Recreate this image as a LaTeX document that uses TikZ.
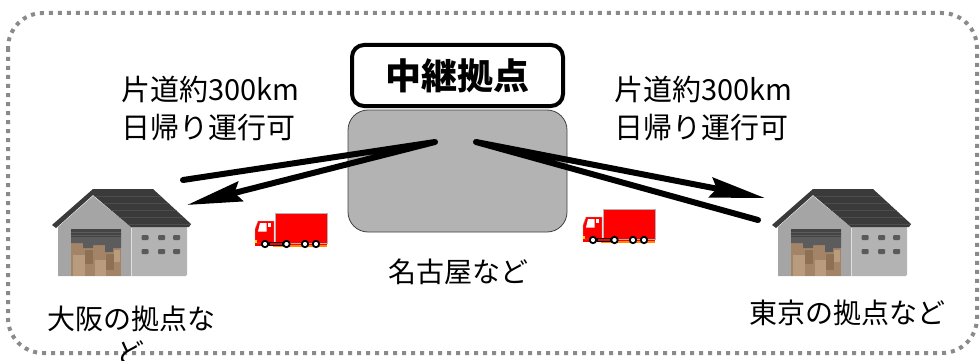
\documentclass[tikz,border=0pt]{standalone}
\usepackage{fontspec}
\newfontfamily\jp{Noto Sans CJK JP}
\usetikzlibrary{arrows.meta}

\definecolor{framegray}{HTML}{8A8A8A}
\definecolor{hubgray}{HTML}{B3B3B3}
\definecolor{roofdark}{HTML}{3A3A3A}
\definecolor{roofline}{HTML}{4C4C4C}
\definecolor{wallfront}{HTML}{A5A5A5}
\definecolor{wallside}{HTML}{B3B3B3}
\definecolor{doortop}{HTML}{444444}
\definecolor{doormid}{HTML}{5C5C5C}
\definecolor{boxbase}{HTML}{A38467}
\definecolor{boxlight}{HTML}{B99C7E}
\definecolor{boxdark}{HTML}{8E7055}
\definecolor{winfill}{HTML}{5A5A5A}
\definecolor{truckred}{HTML}{FF0000}
\definecolor{stripe}{HTML}{FF8C00}
\definecolor{lamp}{HTML}{FFD700}

\tikzset{
  frame/.style={draw=framegray, line width=4pt, dash pattern=on 4pt off 5pt, rounded corners=35pt},
  hubtitle/.style={draw=black, line width=4pt, fill=white, rounded corners=12pt,
    minimum width=211pt, minimum height=61pt, inner sep=0pt,
    font=\jp\bfseries\fontsize{36}{40}\selectfont},
  hubarea/.style={draw=black!75, line width=0.8pt, fill=hubgray, rounded corners=20pt,
    minimum width=219pt, minimum height=122pt, inner sep=0pt},
  dist/.style={align=left, anchor=west, inner sep=0pt, font=\jp\fontsize{29}{38}\selectfont},
  place/.style={align=center, inner sep=0pt, font=\jp\fontsize{28}{34}\selectfont},
  route/.style={line width=6pt, line cap=round, line join=round,
    -{Stealth[length=55pt,width=20pt,inset=6pt]}},
  warehouse/.pic={
    % walls
    \fill[wallside, rounded corners=1.5pt] (90,46) rectangle (147,96);
    \fill[wallfront] (18,47) -- (53,16) -- (91,47) -- (91,96) -- (18,96) -- cycle;
    \draw[white!75!gray, line width=0.8pt] (91,48) -- (91,96);
    % roof with tile lines
    \fill[roofdark] (12,45) -- (53,9) -- (113,9) -- (151,44) -- (149,47) -- (91,47) -- (53,15) -- (16,48) -- cycle;
    \begin{scope}
      \clip (53,9) -- (113,9) -- (151,44) -- (149,47) -- (91,47) -- (53,15) -- cycle;
      \foreach \yy in {16,23,30,37,44}
        \draw[roofline, line width=0.9pt] (40,\yy) -- (160,\yy);
    \end{scope}
    % door with boxes
    \fill[boxbase] (31,49) rectangle (81,96);
    \fill[doormid] (31,49) -- (81,49) -- (81,68) -- (73,68) -- (73,72) -- (65,72) -- (65,65)
       -- (53,65) -- (53,68) -- (43,68) -- (43,63) -- (31,63) -- cycle;
    \fill[doortop] (31,49) rectangle (81,57);
    \draw[doormid, line width=0.8pt] (31,52) -- (81,52) (31,55) -- (81,55);
    \fill[boxlight] (33,75) rectangle (45,96);
    \fill[boxdark] (45,70) rectangle (53,84);
    \fill[boxlight] (55,80) rectangle (66,96);
    \fill[boxdark] (66,74) rectangle (74,90);
    \fill[boxlight] (74,70) rectangle (80,82);
    % windows
    \foreach \xx in {101.5,118,133}
      \foreach \yy in {55,69}
        \fill[winfill, rounded corners=1pt] (\xx,\yy) rectangle ++(7,5);
  },
  truck/.pic={
    \fill[truckred] (0,29) rectangle (72,32.5);
    \fill[stripe] (18,31.5) rectangle (72,33.5);
    \filldraw[fill=truckred, draw=gray!60, line width=0.4pt] (20,0) rectangle (72,30);
    \filldraw[fill=truckred, draw=gray!60, line width=0.4pt]
      (0,30) -- (0,16) -- (3,8) -- (19,8) -- (19,30) -- cycle;
    \fill[white] (3,18.5) -- (5,10) -- (11.5,10) -- (11.5,18.5) -- cycle;
    \fill[white] (12.5,10) rectangle (15.5,14);
    \fill[lamp] (0,26.5) rectangle (2.3,30);
    \filldraw[fill=truckred, draw=black, line width=0.8pt] (14.5,29.5) rectangle (27.5,32.5);
    \foreach \xx in {10,31.5,50,61}
      \filldraw[fill=white, draw=black, line width=1.8pt] (\xx,31) circle (3.2pt);
  }
}

\begin{document}
\begin{tikzpicture}[x=1pt, y=-1pt]
  \useasboundingbox (0,0) rectangle (980,361);

  % dotted outer frame
  \draw[frame] (8,13) rectangle (977,353);

  % relay hub
  \node[hubarea] (hub) at (457.5,171) {};
  \node[hubtitle] (hubname) at (457.5,75.5) {中継拠点};
  \node[place] (hubcity) at (458,272) {名古屋など};

  % warehouses
  \pic (osakawh) at (40,180) {warehouse};
  \pic (tokyowh) at (760,180) {warehouse};
  \node[place] (osaka) at (131,335) {大阪の拠点な\\ど};
  \node[place] (tokyo) at (847.5,313) {東京の拠点など};

  % trucks
  \pic (truckw) at (255,213) {truck};
  \pic (trucke) at (583,209) {truck};

  % distance notes
  \node[dist] (distw) at (121,109) {片道約300km\\日帰り運行可};
  \node[dist] (diste) at (614,109) {片道約300km\\日帰り運行可};

  % round-trip routes
  \coordinate (osakaOut) at (183,180);
  \coordinate (hubWest) at (435,142);
  \coordinate (osakaIn) at (187,205);
  \coordinate (tokyoOut) at (758,220);
  \coordinate (hubEast) at (476,142);
  \coordinate (tokyoIn) at (765,198);
  \draw[route] (osakaOut) -- (hubWest) -- (osakaIn);
  \draw[route] (tokyoOut) -- (hubEast) -- (tokyoIn);
\end{tikzpicture}
\end{document}
